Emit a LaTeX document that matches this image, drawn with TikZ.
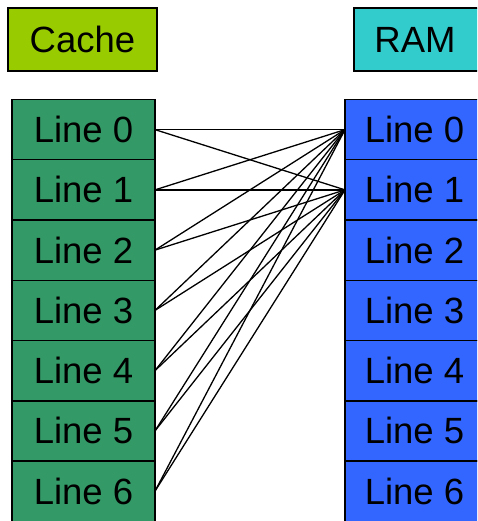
\documentclass[tikz,border=0pt]{standalone}
\usepackage{fontspec}
\setmainfont{Liberation Sans}
\definecolor{cachehead}{HTML}{99CC00}
\definecolor{ramhead}{HTML}{33CCCC}
\definecolor{cachecol}{HTML}{339966}
\definecolor{ramcol}{HTML}{3366FF}
\begin{document}
\begin{tikzpicture}[x=1pt,y=-1pt,
  bigtext/.style={font=\fontsize{36.5}{40}\selectfont},
  box/.style={draw=black, line width=1.5pt, inner sep=0pt, outer sep=0pt, anchor=north west, bigtext},
  head/.style={box, minimum height=63pt},
  cell/.style={box, minimum width=143pt, minimum height=60.25pt},
  cacheline/.style={cell, fill=cachecol},
  ramline/.style={cell, fill=ramcol},
  link/.style={draw=black, line width=1.3pt}]
\useasboundingbox (0,0) rectangle (477,521);
\clip (0,0) rectangle (477,521);
\node[head, fill=cachehead, minimum width=149pt] (hc) at (8,8) {Cache};
\node[head, fill=ramhead, minimum width=132pt] (hr) at (354,8) {RAM\kern10pt};
\foreach \i in {0,...,6} {
  \node[cacheline] (c\i) at (12,{99.5+60.25*\i}) {Line \i};
  \node[ramline] (r\i) at (345,{99.5+60.25*\i}) {Line \i\kern4pt};
}
\foreach \i in {0,...,6} {
  \draw[link] (c\i.east) -- (r0.west);
  \draw[link] (c\i.east) -- (r1.west);
}
\end{tikzpicture}
\end{document}
